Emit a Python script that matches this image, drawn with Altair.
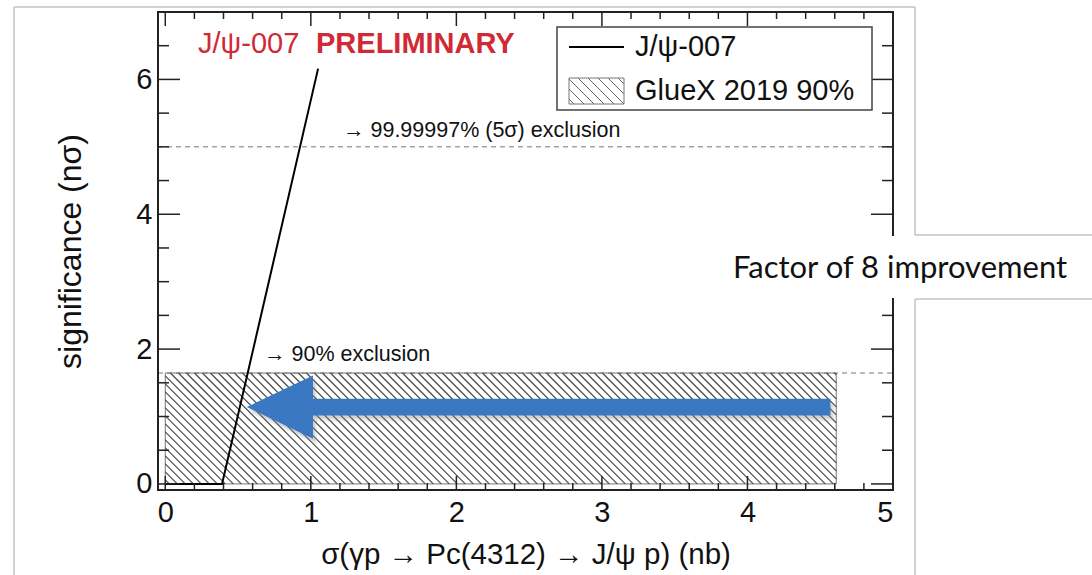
import altair as alt
import numpy as np
import pandas as pd

# ---- data -------------------------------------------------------------
# J/psi-007 significance vs. cross section
jpsi_sigma = [0.0, 0.39, 1.05]
jpsi_signif = [0.0, 0.0, 6.16]

# GlueX 2019 90% upper limit region
gluex_limit = 4.61
level_90 = 1.645
level_5sigma = 5.0

# improvement arrow (from the GlueX limit toward the new limit)
arrow_tail = 4.57
arrow_head_base = 1.015
arrow_tip = 0.56
arrow_level = 1.14
arrow_head_half = 0.47
arrow_shaft_half = 0.125

x_major = [0, 1, 2, 3, 4, 5]
x_minor = [0.2, 0.4, 0.6, 0.8, 1.2, 1.4, 1.6, 1.8, 2.2, 2.4, 2.6, 2.8,
           3.2, 3.4, 3.6, 3.8, 4.2, 4.4, 4.6, 4.8]
y_major = [0, 2, 4, 6]
y_minor = [0.5, 1, 1.5, 2.5, 3, 3.5, 4.5, 5, 5.5, 6.5]

# ---- geometry ---------------------------------------------------------
W, H = 735, 478
X_DOM = [-0.05, 5.0]
Y_DOM = [-0.09, 7.0]
FONT = "Liberation Sans"
RED = "#cf2a36"
BLUE = "#3a78c2"

xs = alt.Scale(domain=X_DOM, nice=False, zero=False)
ys = alt.Scale(domain=Y_DOM, nice=False, zero=False)
px_x = W / (X_DOM[1] - X_DOM[0])
px_y = H / (Y_DOM[1] - Y_DOM[0])

# axes carry labels and titles only; ticks and frame are drawn as marks
AX = alt.Axis(
    values=x_major, format="d", ticks=False, domain=False, grid=False,
    labelFontSize=29, labelFont=FONT, labelColor="#111", labelPadding=8,
    title="σ(γp → Pc(4312) → J/ψ p) (nb)", titleFont=FONT, titleFontSize=29.5,
    titleFontWeight="normal", titleColor="#111", titlePadding=13)
AY = alt.Axis(
    values=y_major, format="d", ticks=False, domain=False, grid=False,
    labelFontSize=29, labelFont=FONT, labelColor="#111", labelPadding=6,
    title="significance (nσ)", titleFont=FONT, titleFontSize=32,
    titleFontWeight="normal", titleColor="#111", titlePadding=48)


def hatch_segments(w, h, step):
    """45-degree '\\\\' hatch segments inside a w x h pixel box (y up)."""
    segs = []
    c = step / 2
    while c < w + h:
        x0, x1 = max(0.0, c - h), min(w, c)
        segs.append((x0, c - x0, x1, c - x1))
        c += step
    return segs


# hatch lines for the GlueX box, expressed in data units
bw, bh = gluex_limit * px_x, level_90 * px_y
hatch = pd.DataFrame(
    [dict(x=a / px_x, y=b / px_y, x2=c / px_x, y2=d / px_y)
     for a, b, c, d in hatch_segments(bw, bh, 8.0)]
)

X = lambda f: alt.X(f, type="quantitative", scale=xs, axis=AX)
Y = lambda f: alt.Y(f, type="quantitative", scale=ys, axis=AY)

box = alt.Chart(pd.DataFrame({"x": [0.0], "x2": [gluex_limit], "y": [0.0], "y2": [level_90]})).mark_rect(
    fill="white", fillOpacity=0, stroke="#777", strokeWidth=1
).encode(x=X("x"), x2="x2", y=Y("y"), y2="y2")

hatch_lines = alt.Chart(hatch).mark_rule(color="#4a4a4a", strokeWidth=1.2).encode(
    x=X("x"), x2="x2", y=Y("y"), y2="y2")

levels = pd.DataFrame({"y": [level_90, level_5sigma]})
dashed = alt.Chart(levels).mark_rule(color="#777", strokeWidth=1, strokeDash=[5, 4]).encode(
    y=Y("y"), x=alt.value(0), x2=alt.value(W))

jpsi = alt.Chart(pd.DataFrame({"x": jpsi_sigma, "y": jpsi_signif})).mark_line(
    color="black", strokeWidth=2).encode(x=X("x"), y=Y("y"))

shaft_df = pd.DataFrame({"x": [arrow_head_base - 0.01], "x2": [arrow_tail],
                         "y": [arrow_level - arrow_shaft_half], "y2": [arrow_level + arrow_shaft_half]})
head_df = pd.DataFrame({"x": [arrow_tip, arrow_head_base],
                        "y": [arrow_level, arrow_level + arrow_head_half],
                        "y2": [arrow_level, arrow_level - arrow_head_half]})


def arrow_layers(color, opacity, dx, dy):
    shaft = alt.Chart(shaft_df).mark_rect(color=color, opacity=opacity, xOffset=dx, yOffset=dy,
                                          x2Offset=dx, y2Offset=dy).encode(
        x=X("x"), x2="x2", y=Y("y"), y2="y2")
    head = alt.Chart(head_df).mark_area(color=color, opacity=opacity, xOffset=dx, yOffset=dy,
                                        y2Offset=dy).encode(
        x=X("x"), y=Y("y"), y2="y2")
    return [shaft, head]


arrow = (arrow_layers("#888", 0.18, 4, 6) + arrow_layers("#888", 0.22, 2, 3)
         + arrow_layers(BLUE, 1.0, 0, 0))


# ticks (pointing inward on all four sides)
def xticks(vals, length):
    d = pd.DataFrame({"x": vals})
    bottom = alt.Chart(d).mark_rule(color="#222", strokeWidth=1.5).encode(
        x=X("x"), y=alt.value(H), y2=alt.value(H - length))
    top = alt.Chart(d).mark_rule(color="#222", strokeWidth=1.5).encode(
        x=X("x"), y=alt.value(0), y2=alt.value(length))
    return [bottom, top]


def yticks(vals, length):
    d = pd.DataFrame({"y": vals})
    left = alt.Chart(d).mark_rule(color="#222", strokeWidth=1.5).encode(
        y=Y("y"), x=alt.value(0), x2=alt.value(length))
    right = alt.Chart(d).mark_rule(color="#222", strokeWidth=1.5).encode(
        y=Y("y"), x=alt.value(W), x2=alt.value(W - length))
    return [left, right]


ticks = xticks(x_major, 14) + xticks(x_minor, 7) + yticks(y_major, 22) + yticks(y_minor, 11)

one = pd.DataFrame({"a": [0]})
frame = alt.Chart(one).mark_rect(fillOpacity=0, stroke="#222", strokeWidth=2).encode(
    x=alt.value(0), x2=alt.value(W), y=alt.value(0), y2=alt.value(H))

# legend
LX0, LY0, LX1, LY1 = 399, 15, 714, 98
legend_box = alt.Chart(one).mark_rect(fill="white", stroke="#444", strokeWidth=1.5).encode(
    x=alt.value(LX0), x2=alt.value(LX1), y=alt.value(LY0), y2=alt.value(LY1))
legend_line = alt.Chart(one).mark_rule(color="black", strokeWidth=2).encode(
    x=alt.value(411), x2=alt.value(466), y=alt.value(35))
SX0, SY0, SX1, SY1 = 411, 66, 466, 92
sample_hatch = pd.DataFrame(
    [dict(x=SX0 + a, y=SY1 - b, x2=SX0 + c, y2=SY1 - d)
     for a, b, c, d in hatch_segments(SX1 - SX0, SY1 - SY0, 10.0)]
)
legend_hatch = alt.Chart(sample_hatch).mark_rule(color="#666", strokeWidth=1).encode(
    x=alt.X("x:Q", scale=None), x2="x2:Q", y=alt.Y("y:Q", scale=None), y2="y2:Q")
legend_sample = alt.Chart(one).mark_rect(fillOpacity=0, stroke="#777", strokeWidth=1).encode(
    x=alt.value(SX0), x2=alt.value(SX1), y=alt.value(SY0), y2=alt.value(SY1))
legend_text = alt.Chart(pd.DataFrame({"t": ["J/ψ-007", "GlueX 2019 90%"], "y": [35, 79]})).mark_text(
    align="left", baseline="middle", font=FONT, fontSize=29, color="#111").encode(
    x=alt.value(477), y=alt.Y("y:Q", scale=None), text="t:N")


# annotations
def label(text, x, y, size, color="#111", weight="normal", align="left", font=FONT):
    return alt.Chart(pd.DataFrame({"t": [text]})).mark_text(
        align=align, baseline="middle", font=font, fontSize=size, color=color,
        fontWeight=weight).encode(x=alt.value(x), y=alt.value(y), text="t:N")


notes = [
    label("J/ψ-007", 40, 32, 29, RED),
    label("PRELIMINARY", 158, 32, 29, RED, "bold"),
    label("→ 99.99997% (5σ) exclusion", 185, 119, 21.5),
    label("→ 90% exclusion", 106, 343, 21.5),
]

# page outline around the figure
GRAY = "#c3c3c3"


def hline(x0, x1, y):
    return alt.Chart(one).mark_rule(color=GRAY, strokeWidth=1.5).encode(
        x=alt.value(x0), x2=alt.value(x1), y=alt.value(y))


def vline(x, y0, y1):
    return alt.Chart(one).mark_rule(color=GRAY, strokeWidth=1.5).encode(
        x=alt.value(x), y=alt.value(y0), y2=alt.value(y1))


outline = [hline(-144, 757, -5), vline(-144, -5, 563), vline(757, -5, 223), vline(757, 287, 563)]

callout_bg = alt.Chart(one).mark_rect(fill="white").encode(
    x=alt.value(540), x2=alt.value(934), y=alt.value(224), y2=alt.value(286))
callout_lines = [hline(757, 934, 223), hline(757, 934, 287)]
callout_text = label("Factor of 8 improvement", 742, 257, 31, "#111", align="center", font="Lato")

layers = ([box, hatch_lines, dashed, jpsi] + arrow + ticks + [frame]
          + [legend_box, legend_hatch, legend_sample, legend_line, legend_text]
          + notes + outline + [callout_bg] + callout_lines + [callout_text])

chart = alt.layer(*layers).properties(
    width=W, height=H,
    autosize=alt.AutoSizeParams(type="none"),
    padding={"left": 158, "top": 12, "right": 1092 - 158 - W, "bottom": 575 - 12 - H},
    background="white",
).configure_view(stroke=None)

chart.save("out.html", embed_options={"renderer": "svg", "actions": False})
